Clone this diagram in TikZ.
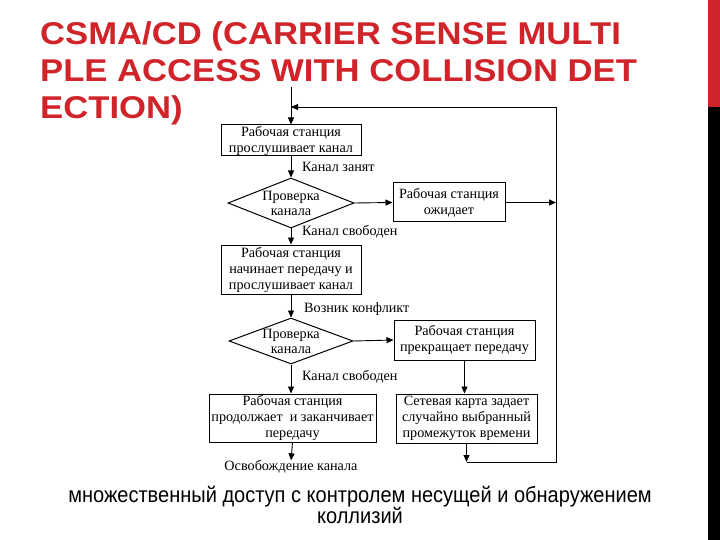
\documentclass[tikz,border=0pt]{standalone}
\usepackage{fontspec}
\setmainfont{Liberation Serif}
\newfontfamily\titlefont{Liberation Sans Bold}
\newfontfamily\capfont{Liberation Sans}
\usetikzlibrary{shapes.geometric,arrows.meta}
\definecolor{titlered}{RGB}{208,36,42}
\begin{document}
\begin{tikzpicture}[x=1pt,y=-1pt,
  box/.style={draw,line width=1pt,rectangle,inner sep=0pt,align=center,font=\fontsize{14.2}{16}\selectfont},
  dia/.style={draw,line width=1pt,diamond,inner sep=0pt},
  lbl/.style={inner sep=0pt,font=\fontsize{14.2}{16}\selectfont,anchor=west},
  arr/.style={line width=0.9pt,-{Triangle[length=7pt,width=6pt]}},
  ln/.style={line width=0.9pt},
  ttl/.style={anchor=base west,inner sep=0pt,text=titlered,font=\titlefont\fontsize{31.5}{37}\selectfont},
  captext/.style={inner sep=0pt,font=\capfont\fontsize{22}{22}\selectfont,anchor=base}]
\useasboundingbox (0,0) rectangle (720,540);
\fill[white] (0,0) rectangle (720,540);
\fill[titlered] (708,0) rectangle (720,107);
\fill[black] (708,107) rectangle (720,540);
% title
\node[ttl] (t1) at (40,45) {\scalebox{1.1}[1]{CSMA/CD (CARRIER SENSE MULTI}};
\node[ttl] (t2) at (40,82) {\scalebox{1.1}[1]{PLE ACCESS WITH COLLISION DET}};
\node[ttl] (t3) at (40,119) {\scalebox{1.1}[1]{ECTION)}};
% flowchart
\coordinate (top) at (291,87);
\node[box,minimum width=140pt,minimum height=31pt] (b1) at (291,140.5) {Рабочая станция\\прослушивает канал};
\node[dia,minimum width=126pt,minimum height=50pt,label={[align=center,font=\fontsize{14.2}{15}\selectfont]center:Проверка\\канала}] (d1) at (291,203) {};
\node[box,minimum width=112pt,minimum height=39pt] (b2) at (449,202.5) {Рабочая станция\\ожидает};
\node[box,minimum width=140pt,minimum height=49pt] (b3) at (291,269.5) {Рабочая станция\\начинает передачу и\\прослушивает канал};
\node[dia,minimum width=124pt,minimum height=46pt,label={[align=center,font=\fontsize{14.2}{15}\selectfont]center:Проверка\\канала}] (d2) at (291,341) {};
\node[box,minimum width=141pt,minimum height=40pt] (b4) at (464.5,340) {Рабочая станция\\прекращает передачу};
\node[box,minimum width=167pt,minimum height=48pt] (b5) at (292.5,418) {Рабочая станция\\продолжает\ \ и заканчивает\\передачу};
\node[box,minimum width=141pt,minimum height=49pt] (b6) at (466.5,418.5) {Сетевая карта задает\\случайно выбранный\\промежуток времени};
\node[inner sep=0pt,font=\fontsize{14.2}{16}\selectfont] (free) at (291,467) {Освобождение канала};
\node[lbl] (l1) at (302,167) {Канал занят};
\node[lbl] (l2) at (302,232) {Канал свободен};
\node[lbl] (l3) at (304,309) {Возник конфликт};
\node[lbl] (l4) at (302,377) {Канал свободен};
\coordinate (rt) at (556,107);
\coordinate (rw) at (556,202.5);
\coordinate (c6) at (466.5,462);
\coordinate (rb) at (556,462);
% connectors
\draw[arr] (top) -- (b1.north);
\draw[arr] (b1.south) -- (d1.north);
\draw[arr] (d1.east) -- (b2.west);
\draw[arr] (b2.east) -- (rw);
\draw[arr] (d1.south) -- (b3.north);
\draw[arr] (b3.south) -- (d2.north);
\draw[arr] (d2.east) -- (b4.west);
\draw[arr] (d2.south) -- (d2.south |- b5.north);
\draw[arr] (b4.south) -- (b4.south |- b6.north);
\draw[arr] (b5.south) -- (free.north);
\draw[arr] (b6.south) -- (c6);
\draw[ln] (c6) -- (rb) -- (rt);
\draw[arr] (rt) -- (291,107);
% caption
\node[captext] (cap1) at (360,502) {\scalebox{0.91}[1]{множественный доступ с контролем несущей и обнаружением}};
\node[captext] (cap2) at (360,523) {\scalebox{0.91}[1]{коллизий}};
\end{tikzpicture}
\end{document}
